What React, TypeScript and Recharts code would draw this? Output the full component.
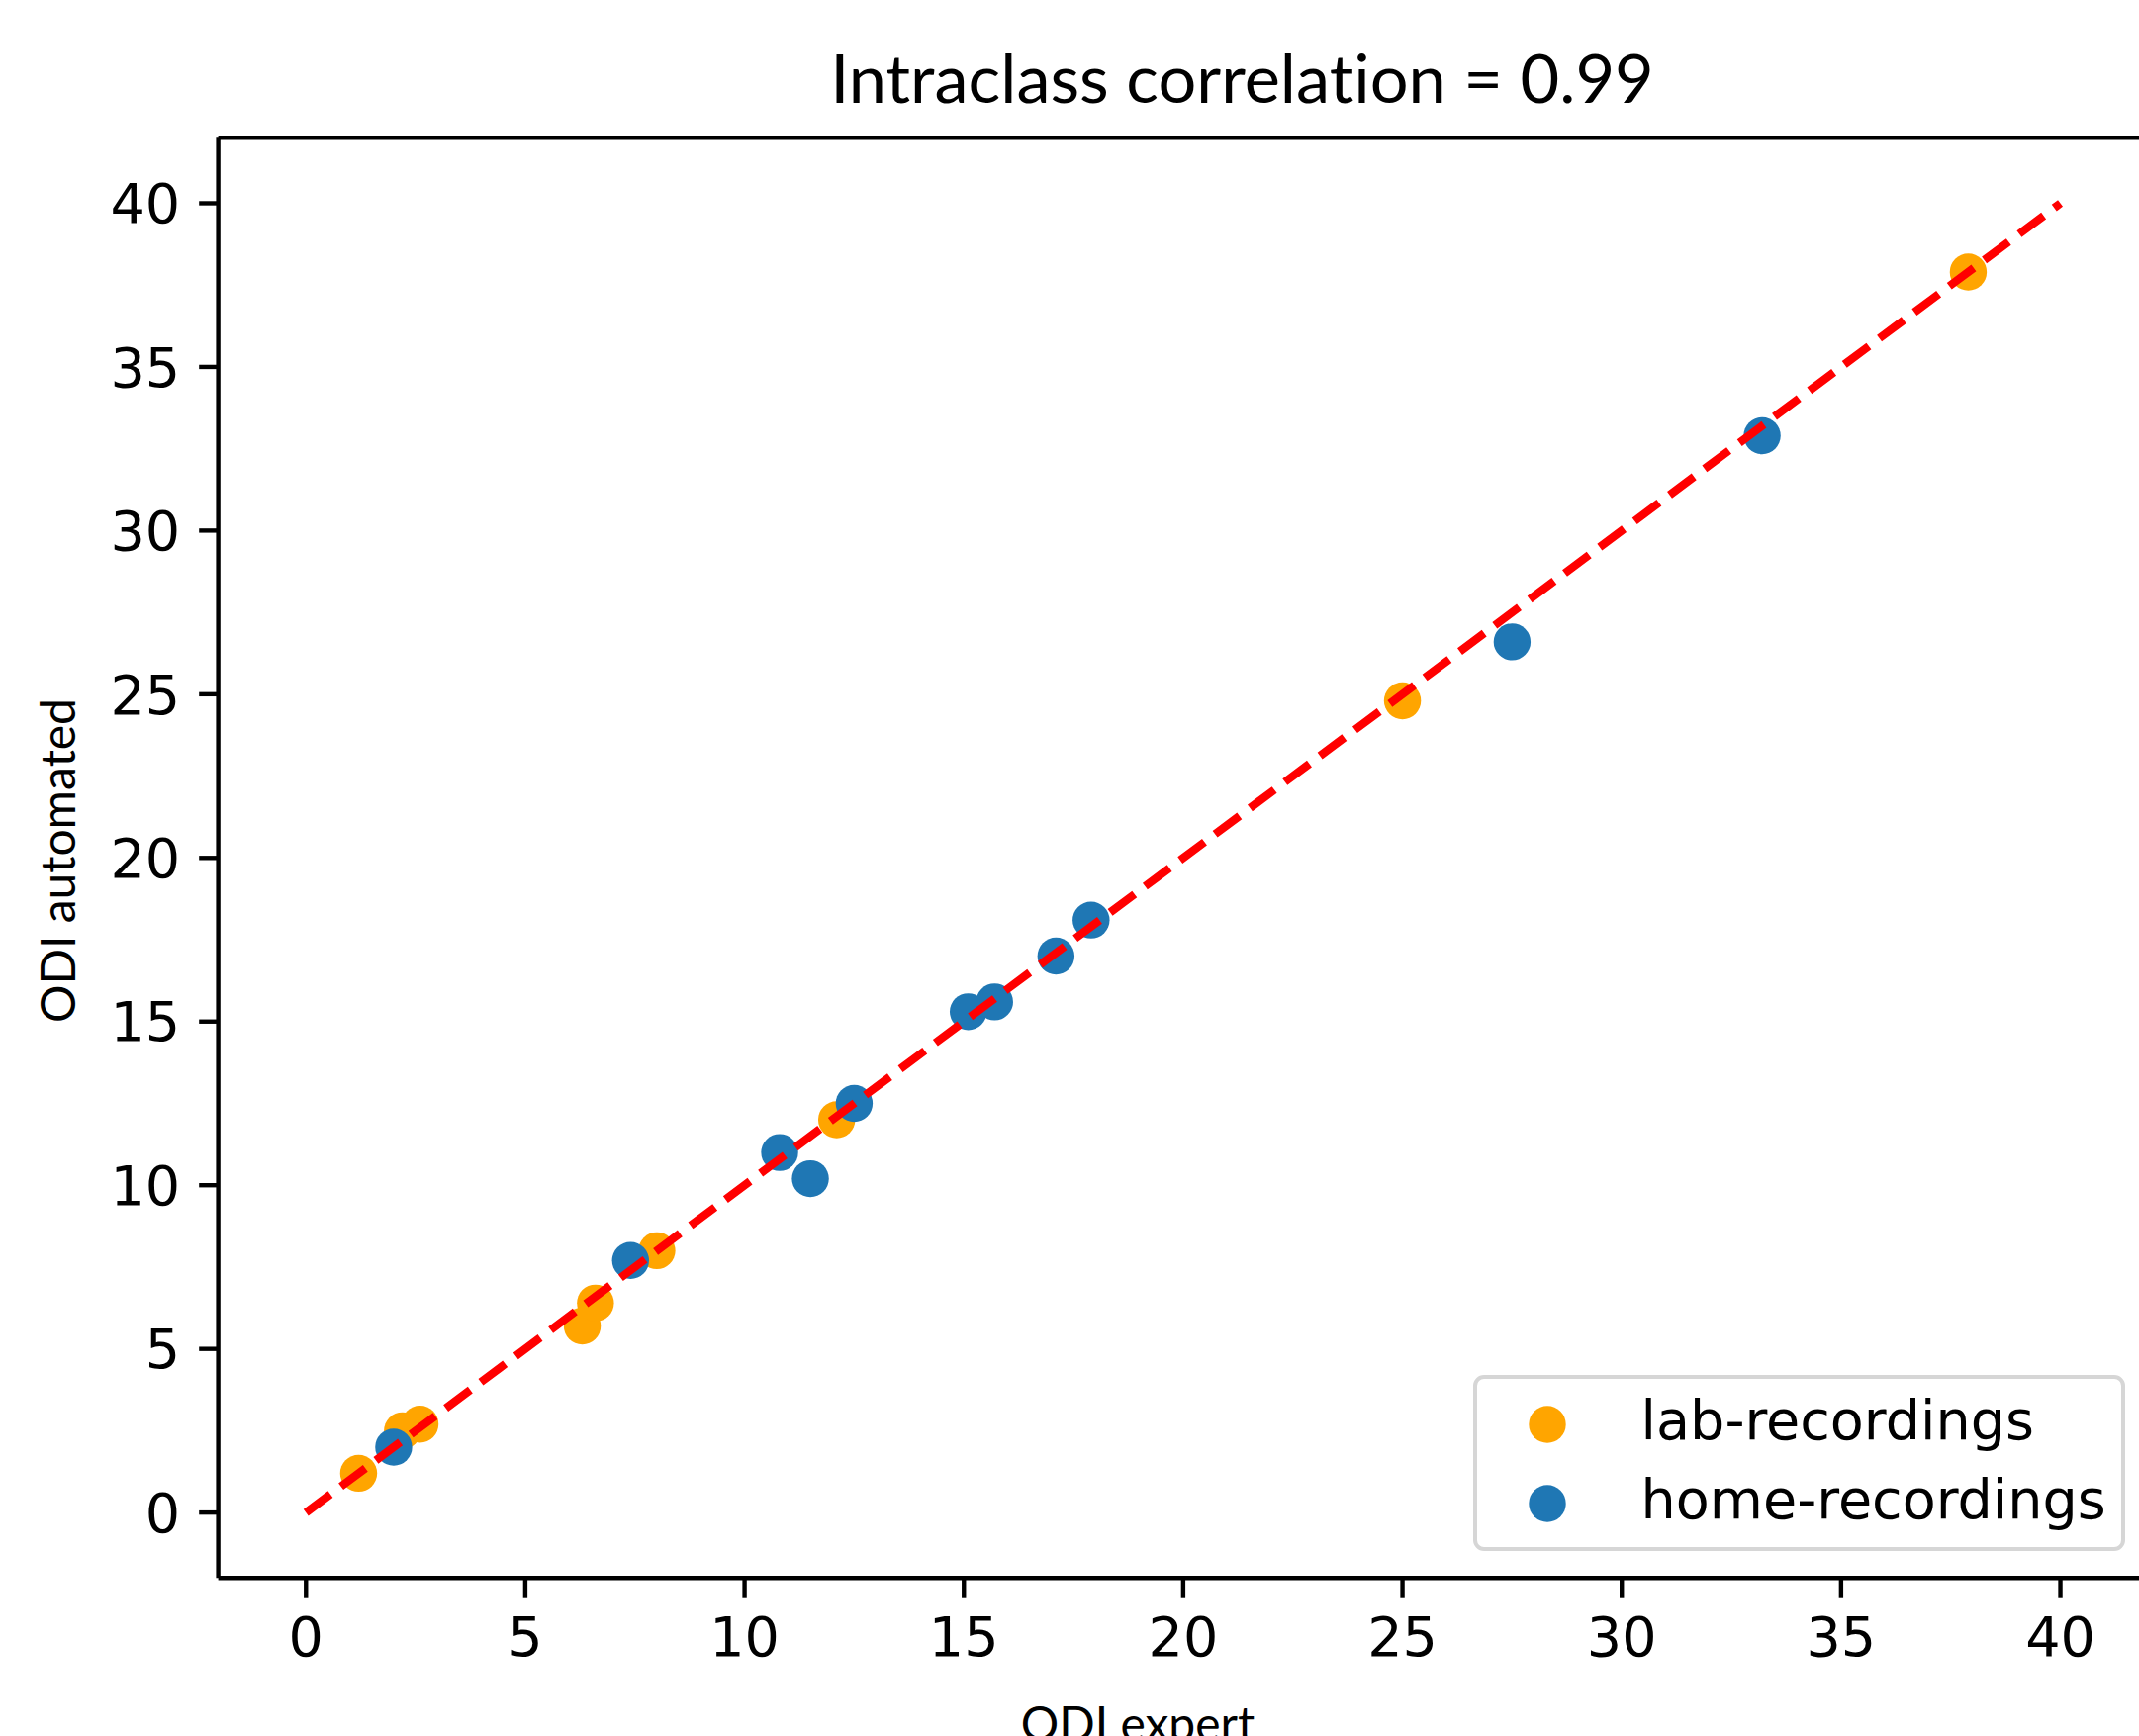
import { ScatterChart, Scatter, XAxis, YAxis, ReferenceLine, Legend } from 'recharts';

// ODI values (expert vs automated)
const labExpert = [1.2, 2.2, 2.6, 6.3, 6.6, 8.0, 12.1, 25.0, 37.9];
const labAutomated = [1.2, 2.5, 2.7, 5.7, 6.4, 8.0, 12.0, 24.8, 37.9];
const homeExpert = [2.0, 7.4, 10.8, 11.5, 12.5, 15.1, 15.7, 17.1, 17.9, 27.5, 33.2];
const homeAutomated = [2.0, 7.7, 11.0, 10.2, 12.5, 15.3, 15.6, 17.0, 18.1, 26.6, 32.9];
const identityEnds = [0, 40];
const axisTicks = [0, 5, 10, 15, 20, 25, 30, 35, 40];
const axisDomain = [-2, 42];
const seriesNames = ['lab-recordings', 'home-recordings'];

const LAB = '#ffa500';
const HOME = '#1f77b4';
const R = 18.7;
const LW = 4.4;
const tickFont = { fill: '#000', fontSize: 55.6, fontFamily: 'DejaVu Sans' };
const labelFont = 'Lato';

const labData = labExpert.map((x, i) => ({ x, y: labAutomated[i] }));
const homeData = homeExpert.map((x, i) => ({ x, y: homeAutomated[i] }));
const lineData = identityEnds.map((v) => ({ x: v, y: v }));

const LabDot = (p: any) => <circle cx={p.cx} cy={p.cy} r={R} fill={LAB} />;
const HomeDot = (p: any) => <circle cx={p.cx} cy={p.cy} r={R} fill={HOME} />;

const renderLegend = ({ payload }: any) => {
  const items = (payload || [])
    .filter((e: any) => seriesNames.includes(e.value))
    .sort((a: any, b: any) => seriesNames.indexOf(a.value) - seriesNames.indexOf(b.value));
  return (
    <div
      style={{
        boxSizing: 'border-box',
        width: '100%',
        height: '100%',
        border: `${LW}px solid #d6d6d6`,
        borderRadius: 11,
        background: '#fff',
        position: 'relative',
      }}
    >
      {items.map((entry: any, i: number) => (
        <div
          key={entry.value}
          style={{ position: 'absolute', left: 0, top: 45.6 + i * 80 - 44, height: 80, width: '100%' }}
        >
          <svg width={40} height={80} style={{ position: 'absolute', left: 71.5 - 20, top: 4 }}>
            <circle cx={20} cy={40} r={R} fill={entry.value === 'lab-recordings' ? LAB : HOME} />
          </svg>
          <span
            style={{
              position: 'absolute',
              left: 166,
              top: 0,
              lineHeight: '80px',
              fontFamily: 'DejaVu Sans',
              fontSize: 55.6,
              color: '#000',
              whiteSpace: 'nowrap',
            }}
          >
            {entry.value}
          </span>
        </div>
      ))}
    </div>
  );
};

export default function App() {
  return (
    <div style={{ position: 'fixed', left: 0, top: 0, width: 2162, height: 1755, overflow: 'hidden', background: '#fff' }}>
      <ScatterChart width={2200} height={1755} margin={{ top: 139.3, right: 28.8, bottom: 0, left: 0 }}>
        <XAxis
          type="number"
          dataKey="x"
          domain={axisDomain}
          ticks={axisTicks}
          allowDataOverflow
          height={159.7}
          tickSize={19.4}
          tickMargin={20}
          tick={tickFont}
          tickLine={{ stroke: '#000', strokeWidth: LW }}
          axisLine={{ stroke: '#000', strokeWidth: LW }}
        />
        <YAxis
          type="number"
          dataKey="y"
          domain={axisDomain}
          ticks={axisTicks}
          allowDataOverflow
          width={220.6}
          tickSize={19.4}
          tickMargin={19}
          tick={tickFont}
          tickLine={{ stroke: '#000', strokeWidth: LW }}
          axisLine={{ stroke: '#000', strokeWidth: LW }}
        />
        <ReferenceLine y={42} stroke="#000" strokeWidth={LW} ifOverflow="visible" />
        <Scatter name="lab-recordings" data={labData} fill={LAB} shape={LabDot} isAnimationActive={false} />
        <Scatter name="home-recordings" data={homeData} fill={HOME} shape={HomeDot} isAnimationActive={false} />
        <Scatter
          name="identity"
          data={lineData}
          legendType="none"
          fill="#ff0000"
          shape={() => <g />}
          line={{ stroke: '#ff0000', strokeWidth: 8.3, strokeDasharray: '30.8 13.3' }}
          isAnimationActive={false}
        />
        <Legend
          layout="vertical"
          align="center"
          verticalAlign="middle"
          content={renderLegend}
          wrapperStyle={{ left: 1488.6, top: 1390, width: 659, height: 178 }}
        />
        <text
          x={1255.5}
          y={104}
          textAnchor="middle"
          fontFamily={labelFont}
          fontSize={68.5}
          fill="#000"
          style={{ fontVariantLigatures: 'none' }}
        >
          Intraclass correlation = 0.99
        </text>
        <text
          x={76}
          y={870}
          textAnchor="middle"
          transform="rotate(-90 76 870)"
          fontFamily={labelFont}
          fontSize={48}
          fill="#000"
        >
          ODI automated
        </text>
        <text x={1150} y={1760} textAnchor="middle" fontFamily={labelFont} fontSize={48} fill="#000">
          ODI expert
        </text>
      </ScatterChart>
    </div>
  );
}
